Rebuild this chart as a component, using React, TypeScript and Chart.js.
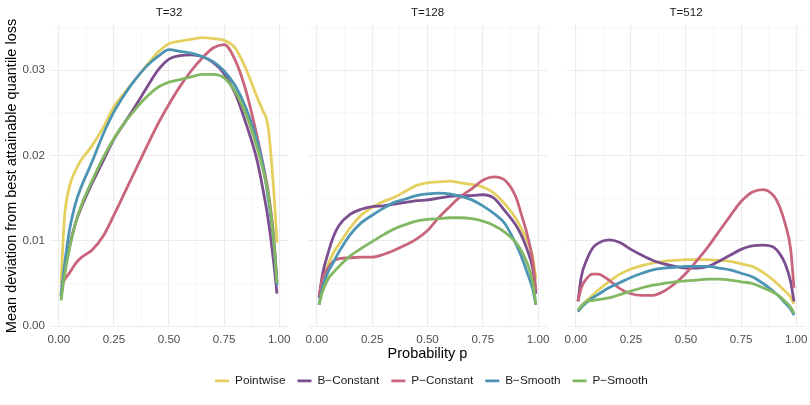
import { useEffect, useRef } from "react"
import { Chart, registerables } from "chart.js"

Chart.register(...registerables)

const FONT = "'Liberation Sans', Arial, Helvetica, sans-serif"

const methods = ["Pointwise", "B−Constant", "P−Constant", "B−Smooth", "P−Smooth"]
const colors = ["#E4D05E", "#7C4E8F", "#C8657C", "#4C94B4", "#83B863"]

// probability grid shared by all curves
const probs = [0.01, 0.025, 0.05, 0.075, 0.1, 0.15, 0.2, 0.25, 0.3, 0.35, 0.4, 0.45, 0.5, 0.55, 0.6, 0.65, 0.7, 0.75, 0.8, 0.85, 0.9, 0.925, 0.95, 0.975, 0.99]

// T=32
const pointwiseT32 = [0.005, 0.0125, 0.0165, 0.0182, 0.0194, 0.0211, 0.0232, 0.0257, 0.0274, 0.029, 0.0306, 0.0321, 0.0331, 0.0334, 0.0336, 0.0338, 0.0337, 0.0335, 0.0326, 0.0301, 0.0268, 0.0253, 0.0233, 0.016, 0.0098]
const bConstantT32 = [0.0035, 0.0062, 0.0095, 0.012, 0.0138, 0.0167, 0.0193, 0.0219, 0.0239, 0.0259, 0.028, 0.03, 0.0313, 0.0317, 0.0318, 0.0316, 0.0309, 0.0296, 0.0273, 0.0237, 0.0194, 0.0162, 0.0125, 0.0075, 0.0038]
const pConstantT32 = [0.0046, 0.0054, 0.0063, 0.0073, 0.008, 0.0089, 0.0105, 0.013, 0.0157, 0.0184, 0.0211, 0.0237, 0.026, 0.0281, 0.0299, 0.0314, 0.0326, 0.033, 0.0312, 0.0275, 0.0222, 0.0192, 0.0158, 0.0105, 0.0052]
const bSmoothT32 = [0.0036, 0.007, 0.0115, 0.0143, 0.0162, 0.0192, 0.0224, 0.0251, 0.0272, 0.029, 0.0305, 0.0316, 0.0324, 0.0322, 0.032, 0.0316, 0.031, 0.0299, 0.0282, 0.0255, 0.0217, 0.019, 0.015, 0.01, 0.0048]
const pSmoothT32 = [0.003, 0.0058, 0.0093, 0.012, 0.014, 0.017, 0.0197, 0.022, 0.0239, 0.0255, 0.0269, 0.028, 0.0286, 0.0289, 0.0292, 0.0295, 0.0295, 0.0291, 0.0275, 0.0248, 0.0209, 0.0185, 0.0155, 0.01, 0.005]

// T=128
const pointwiseT128 = [0.0035, 0.0052, 0.0071, 0.0086, 0.0096, 0.0115, 0.013, 0.0139, 0.0146, 0.0151, 0.0158, 0.0165, 0.0168, 0.0169, 0.017, 0.0168, 0.0166, 0.0163, 0.0156, 0.0143, 0.0126, 0.0114, 0.01, 0.0082, 0.0055]
const bConstantT128 = [0.0033, 0.006, 0.0085, 0.0105, 0.0118, 0.0131, 0.0137, 0.014, 0.0141, 0.0143, 0.0145, 0.0147, 0.0148, 0.015, 0.0152, 0.0153, 0.0153, 0.0154, 0.015, 0.0135, 0.0118, 0.0106, 0.009, 0.0068, 0.0038]
const pConstantT128 = [0.0035, 0.0055, 0.0068, 0.0076, 0.0079, 0.008, 0.0081, 0.0081, 0.0084, 0.0089, 0.0095, 0.0102, 0.0112, 0.0127, 0.014, 0.0152, 0.0161, 0.0171, 0.0175, 0.0171, 0.0151, 0.013, 0.0108, 0.0077, 0.0042]
const bSmoothT128 = [0.0025, 0.0045, 0.0063, 0.0075, 0.0087, 0.0107, 0.0121, 0.013, 0.0138, 0.0145, 0.0149, 0.0153, 0.0155, 0.0156, 0.0155, 0.0152, 0.0148, 0.0141, 0.0132, 0.012, 0.0096, 0.0081, 0.0063, 0.0044, 0.0025]
const pSmoothT128 = [0.0025, 0.004, 0.0055, 0.0063, 0.007, 0.0082, 0.0091, 0.0099, 0.0107, 0.0114, 0.0119, 0.0123, 0.0125, 0.0126, 0.0127, 0.0127, 0.0126, 0.0123, 0.0118, 0.011, 0.0098, 0.0088, 0.0074, 0.0052, 0.0025]

// T=512
const pointwiseT512 = [0.0017, 0.0022, 0.003, 0.0036, 0.0042, 0.0052, 0.0061, 0.0067, 0.0071, 0.0074, 0.0076, 0.0077, 0.0078, 0.0078, 0.0078, 0.0077, 0.0076, 0.0073, 0.007, 0.0063, 0.0053, 0.0047, 0.0041, 0.0034, 0.0026]
const bConstantT512 = [0.0029, 0.0058, 0.0078, 0.0091, 0.0097, 0.0101, 0.0098, 0.009, 0.0083, 0.0077, 0.0073, 0.007, 0.0068, 0.0068, 0.007, 0.0076, 0.0083, 0.009, 0.0094, 0.0095, 0.0092, 0.0085, 0.0073, 0.0052, 0.0029]
const pConstantT512 = [0.0029, 0.0045, 0.0056, 0.0061, 0.0061, 0.0054, 0.0044, 0.0038, 0.0036, 0.0036, 0.0041, 0.005, 0.0062, 0.0077, 0.0093, 0.0111, 0.0129, 0.0146, 0.0157, 0.016, 0.0152, 0.014, 0.012, 0.009, 0.0045]
const bSmoothT512 = [0.0017, 0.0022, 0.0028, 0.0033, 0.0037, 0.0045, 0.0051, 0.0057, 0.0062, 0.0066, 0.0068, 0.0069, 0.007, 0.007, 0.007, 0.0068, 0.0066, 0.0062, 0.0058, 0.005, 0.004, 0.0034, 0.0027, 0.002, 0.0013]
const pSmoothT512 = [0.0019, 0.0024, 0.0029, 0.003, 0.0031, 0.0033, 0.0037, 0.0041, 0.0045, 0.0048, 0.005, 0.0052, 0.0053, 0.0054, 0.0055, 0.0055, 0.0054, 0.0052, 0.005, 0.0045, 0.0039, 0.0035, 0.0029, 0.0022, 0.0015]

// axis ticks (majors get labels, the rest are minor grid lines)
const xTicks = [0, 0.125, 0.25, 0.375, 0.5, 0.625, 0.75, 0.875, 1]
const yTicks = [0, 0.005, 0.01, 0.015, 0.02, 0.025, 0.03, 0.035]

const isMajorX = (v: number) => Math.abs(v * 4 - Math.round(v * 4)) < 1e-9
const isMajorY = (v: number) => Math.abs(v * 100 - Math.round(v * 100)) < 1e-9

interface PanelProps {
  title: string
  series: number[][]
  left: number
  width: number
  padLeft: number
  padRight: number
  showY: boolean
  showXTitle: boolean
}

function Panel({ title, series, left, width, padLeft, padRight, showY, showXTitle }: PanelProps) {
  const chartRef = useRef<HTMLCanvasElement>(null)

  useEffect(() => {
    if (!chartRef.current) return

    const gridOpts = (major: (v: number) => boolean) => ({
      color: (ctx: any) => (ctx.tick && major(ctx.tick.value) ? "#EBEBEB" : "#F4F4F4"),
      lineWidth: (ctx: any) => (ctx.tick && major(ctx.tick.value) ? 1.1 : 0.6),
      drawTicks: false,
    })

    const chart = new Chart(chartRef.current, {
      type: "line",
      data: {
        datasets: series.map((vals, i) => ({
          label: methods[i],
          data: probs.map((p, j) => ({ x: p, y: vals[j] })),
          borderColor: colors[i],
          backgroundColor: colors[i],
          borderWidth: 2.8,
          pointRadius: 0,
          cubicInterpolationMode: "monotone" as const,
          fill: false,
          order: series.length - i,
        })),
      },
      options: {
        animation: false,
        responsive: true,
        maintainAspectRatio: false,
        layout: { padding: { left: padLeft, right: padRight, top: 0, bottom: 0 } },
        plugins: {
          legend: { display: false },
          tooltip: { enabled: false },
          title: {
            display: true,
            text: title,
            fullSize: false,
            color: "#1A1A1A",
            font: { family: FONT, size: 11.6, weight: "normal" },
            padding: { top: 6, bottom: 5 },
          },
        },
        scales: {
          x: {
            type: "linear",
            min: -0.04,
            max: 1.04,
            bounds: "data",
            afterBuildTicks: (s: any) => {
              s.ticks = xTicks.map((v) => ({ value: v }))
            },
            afterFit: (s: any) => {
              s.height = 40
            },
            grid: gridOpts(isMajorX),
            border: { display: false },
            ticks: {
              autoSkip: false,
              maxRotation: 0,
              padding: 6,
              color: "#4D4D4D",
              font: { family: FONT, size: 11.6 },
              callback: (v: any) => (isMajorX(Number(v)) ? Number(v).toFixed(2) : ""),
            },
            title: {
              display: showXTitle,
              text: "Probability p",
              color: "#000000",
              font: { family: FONT, size: 14.5 },
              padding: { top: 0, bottom: 4 },
            },
          },
          y: {
            type: "linear",
            min: -0.0001,
            max: 0.0353,
            bounds: "data",
            afterBuildTicks: (s: any) => {
              s.ticks = yTicks.map((v) => ({ value: v }))
            },
            afterFit: (s: any) => {
              s.width = showY ? 50 : 0
            },
            grid: gridOpts(isMajorY),
            border: { display: false },
            ticks: {
              display: showY,
              padding: 5,
              color: "#4D4D4D",
              font: { family: FONT, size: 11.6 },
              callback: (v: any) => (isMajorY(Number(v)) ? Number(v).toFixed(2) : ""),
            },
            title: {
              display: showY,
              text: "Mean deviation from best attainable quantile loss",
              color: "#000000",
              font: { family: FONT, size: 14.5 },
              padding: { top: 3, bottom: 0 },
            },
          },
        },
      },
    })

    return () => {
      chart.destroy()
    }
  }, [title, series, padLeft, padRight, showY, showXTitle])

  return (
    <div style={{ position: "absolute", left, top: 0, width, height: 367 }}>
      <canvas ref={chartRef} />
    </div>
  )
}

function Legend() {
  const chartRef = useRef<HTMLCanvasElement>(null)

  useEffect(() => {
    if (!chartRef.current) return

    const chart = new Chart(chartRef.current, {
      type: "line",
      data: {
        datasets: methods.map((m, i) => ({
          label: m,
          data: [],
          borderColor: colors[i],
          backgroundColor: colors[i],
          borderWidth: 2.8,
          pointBorderColor: colors[i],
          pointBorderWidth: 2.8,
        })),
      },
      options: {
        animation: false,
        responsive: true,
        maintainAspectRatio: false,
        scales: { x: { display: false }, y: { display: false } },
        plugins: {
          tooltip: { enabled: false },
          legend: {
            position: "top",
            labels: {
              usePointStyle: true,
              pointStyle: "line",
              pointStyleWidth: 14,
              padding: 12,
              color: "#1A1A1A",
              font: { family: FONT, size: 11.8 },
            },
          },
        },
      },
    })

    return () => {
      chart.destroy()
    }
  }, [])

  return (
    <div style={{ position: "absolute", left: 53, top: 363, width: 757, height: 100 }}>
      <canvas ref={chartRef} />
    </div>
  )
}

const seriesT32 = [pointwiseT32, bConstantT32, pConstantT32, bSmoothT32, pSmoothT32]
const seriesT128 = [pointwiseT128, bConstantT128, pConstantT128, bSmoothT128, pSmoothT128]
const seriesT512 = [pointwiseT512, bConstantT512, pConstantT512, bSmoothT512, pSmoothT512]

export default function App() {
  return (
    <div
      style={{
        position: "absolute",
        left: 0,
        top: 0,
        width: 810,
        height: 405,
        overflow: "hidden",
        background: "#ffffff",
      }}
    >
      <Panel title="T=32" series={seriesT32} left={0} width={300} padLeft={0} padRight={12} showY={true} showXTitle={false} />
      <Panel title="T=128" series={seriesT128} left={296} width={263} padLeft={12} padRight={12} showY={false} showXTitle={true} />
      <Panel title="T=512" series={seriesT512} left={555} width={262} padLeft={12} padRight={12} showY={false} showXTitle={false} />
      <Legend />
    </div>
  )
}
